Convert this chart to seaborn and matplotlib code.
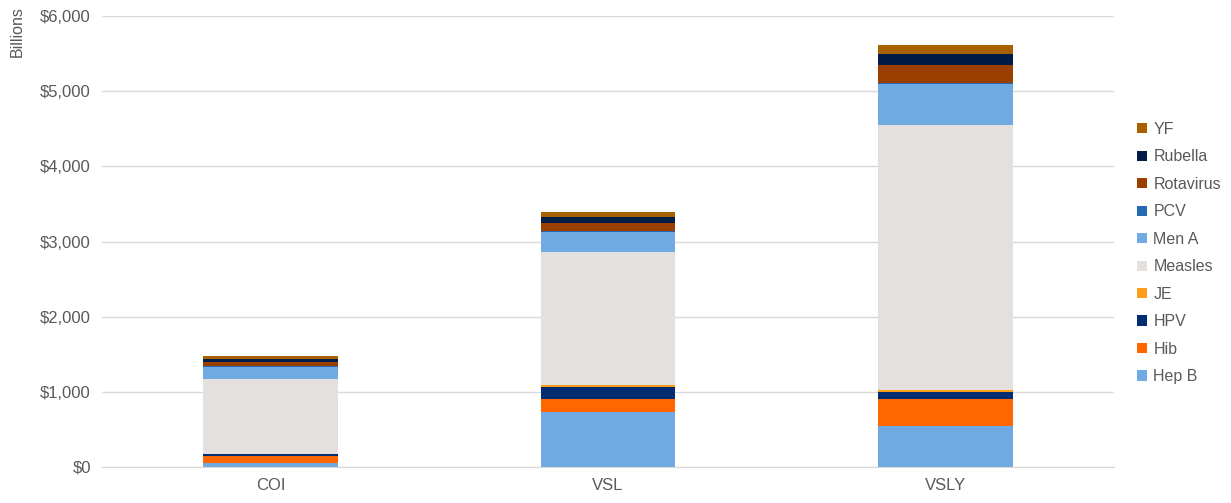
import numpy as np
import pandas as pd
import matplotlib
matplotlib.use("Agg")
import matplotlib.pyplot as plt
import seaborn as sns

categories = ["COI", "VSL", "VSLY"]
vaccines = ["Hep B", "Hib", "HPV", "JE", "Measles", "Men A", "PCV", "Rotavirus", "Rubella", "YF"]
hep_b = [49, 736, 545]
hib = [101, 168, 355]
hpv = [19, 164, 93]
je = [3, 23, 31]
measles = [995, 1773, 3524]
men_a = [167, 266, 552]
pcv = [6, 6, 10]
rotavirus = [57, 114, 234]
rubella = [44, 75, 151]
yf = [36, 71, 116]
series = [hep_b, hib, hpv, je, measles, men_a, pcv, rotavirus, rubella, yf]
colors = ["#6FAAE2", "#FF6600", "#002D72", "#FF9E1B", "#E3E0DD",
          "#6FAAE2", "#2369B3", "#9B3F00", "#001B45", "#A86100"]
yticks = [0, 1000, 2000, 3000, 4000, 5000, 6000]
ytick_labels = ["$0", "$1,000", "$2,000", "$3,000", "$4,000", "$5,000", "$6,000"]

sns.set_style("white")
plt.rcParams['font.family'] = ['Liberation Sans', 'DejaVu Sans']

fig = plt.figure(figsize=(12.31, 5.03), dpi=100)
ax = fig.add_axes([102/1231, 36/503, 1012/1231, 451/503])

bottom = np.zeros(len(categories))
for name, vals, col in zip(vaccines, series, colors):
    df = pd.DataFrame({"cat": categories, "val": vals})
    sns.barplot(data=df, x="cat", y="val", bottom=bottom, color=col, width=0.4,
                label=name, ax=ax, linewidth=0, saturation=1, errorbar=None)
    bottom = bottom + np.array(vals)

ax.set_ylim(0, 6000)
ax.set_xlim(-0.5, 2.5)
ax.set_yticks(yticks)
ax.set_yticklabels(ytick_labels)
ax.yaxis.grid(True, color="#D9D9D9", linewidth=1)
ax.set_axisbelow(True)
for s in ["top", "right", "left"]:
    ax.spines[s].set_visible(False)
ax.spines["bottom"].set_color("#D9D9D9")
ax.tick_params(axis="both", colors="#595959", labelsize=12, length=0, pad=8)
ax.set_xlabel("")
ax.set_ylabel("Billions", color="#595959", fontsize=11.5)
ax.yaxis.set_label_coords(-0.076, 0.965)

handles, labels = ax.get_legend_handles_labels()
if ax.get_legend() is not None:
    ax.get_legend().remove()
leg = fig.legend(handles[::-1], labels[::-1], loc="center left",
                 bbox_to_anchor=(1123/1231, 250/503), frameon=False,
                 fontsize=11.5, handlelength=0.6, handleheight=0.6,
                 handletextpad=0.4, labelspacing=0.78, labelcolor="#595959")

fig.savefig("out.png", dpi=100)
